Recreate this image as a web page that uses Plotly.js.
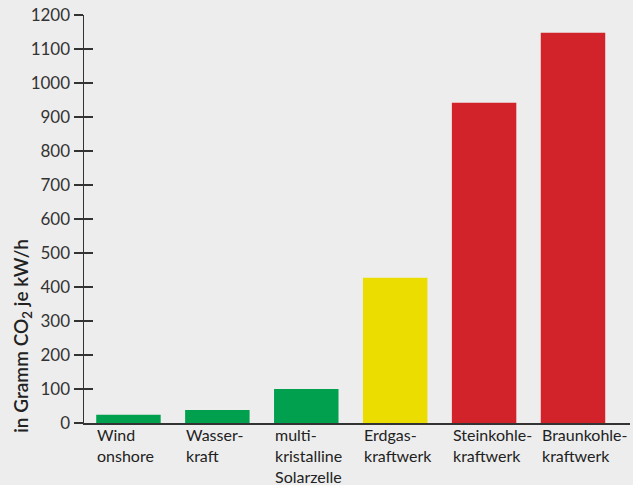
<!DOCTYPE html>
<html><head><meta charset="utf-8">
<script src="https://cdn.plot.ly/plotly-3.0.1.min.js"></script>
<style>html,body{margin:0;padding:0;background:#ededed;}</style>
</head><body>
<div id="chart" style="width:633px;height:485px;"></div>
<script>
const categories = ["Wind onshore", "Wasserkraft", "multikristalline Solarzelle", "Erdgaskraftwerk", "Steinkohlekraftwerk", "Braunkohlekraftwerk"];
const labels = ["Wind<br>onshore", "Wasser-<br>kraft", "multi-<br>kristalline<br>Solarzelle", "Erdgas-<br>kraftwerk", "Steinkohle-<br>kraftwerk", "Braunkohle-<br>kraftwerk"];
const values = [24, 38, 100, 427, 942, 1148];
const barColors = ["#00a04f", "#00a04f", "#00a04f", "#ebdd00", "#d2232a", "#d2232a"];
const tickVals = [0, 100, 200, 300, 400, 500, 600, 700, 800, 900, 1000, 1100, 1200];

const font = {family: "Lato, 'Open Sans', sans-serif", size: 17, color: "#333"};

const trace = {
  type: "bar", x: categories, y: values,
  marker: {color: barColors, line: {width: 0}},
  hoverinfo: "none"
};

const annotations = categories.map((c, i) => ({
  x: c, y: 0, xref: "x", yref: "y",
  text: labels[i], showarrow: false,
  xanchor: "left", yanchor: "top", align: "left",
  xshift: -33, yshift: 0,
  font: {family: font.family, size: 16, color: "#222"}
}));
annotations.push({
  xref: "paper", yref: "paper", x: -0.114, y: 0.213,
  xanchor: "center", yanchor: "middle",
  text: "in Gramm CO<sub>2</sub> je kW/h", showarrow: false, textangle: -90,
  font: {family: font.family, size: 19, color: "#222", weight: 600}
});

const layout = {
  width: 633, height: 485,
  margin: {l: 84, r: 3, t: 15, b: 62},
  paper_bgcolor: "#ededed", plot_bgcolor: "#ededed",
  font: font, showlegend: false, bargap: 0.275,
  xaxis: {type: "category", showticklabels: false, ticks: "", showline: true,
          linecolor: "#333", linewidth: 1.5, showgrid: false, zeroline: false, fixedrange: true},
  yaxis: {range: [0, 1200], tickvals: tickVals, ticks: "outside", ticklen: 9, tickwidth: 1.3,
          tickcolor: "#333", showline: true, linecolor: "#333", linewidth: 1.5,
          showgrid: false, zeroline: false, tickfont: font, fixedrange: true},
  yaxis2: {range: [0, 1200], overlaying: "y", side: "left", tickvals: tickVals, ticks: "inside",
           ticklen: 9, tickwidth: 1.3, tickcolor: "#333", showticklabels: false, showline: false,
           showgrid: false, zeroline: false, fixedrange: true},
  annotations: annotations
};

const dummy = {type: "scatter", x: [categories[0]], y: [0], yaxis: "y2", mode: "markers",
               marker: {opacity: 0}, hoverinfo: "none"};

Plotly.newPlot("chart", [trace, dummy], layout, {displayModeBar: false, staticPlot: true});
</script>
</body></html>
